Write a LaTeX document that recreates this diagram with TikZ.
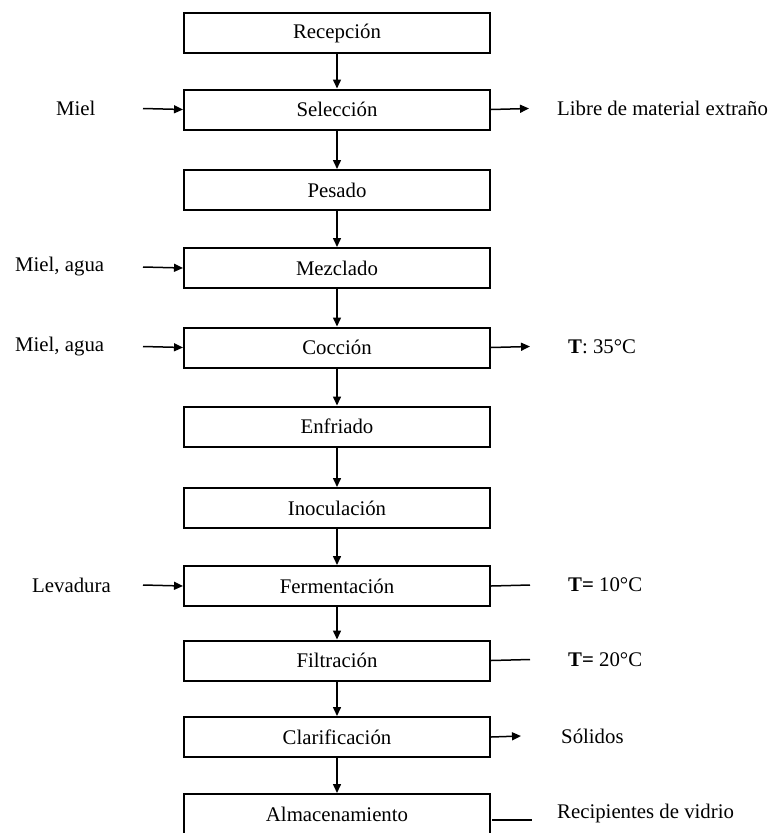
\documentclass[tikz,border=0pt]{standalone}
\usepackage{fontspec}
\setmainfont{Liberation Serif}
\usetikzlibrary{arrows.meta}
\begin{document}
\begin{tikzpicture}[x=1pt,y=-1pt,
  stage/.style={draw,line width=2pt,minimum width=306pt,minimum height=40pt,inner sep=0pt,anchor=north west},
  lbl/.style={anchor=west,inner sep=0pt},
  flow/.style={line width=1.5pt,-{Triangle[length=9pt,width=8pt]}},
  plain/.style={line width=1.5pt},
  every node/.style={font=\fontsize{20.8}{24}\selectfont}]
\useasboundingbox (0,0) rectangle (769,833);
\clip (0,0) rectangle (769,833);

% process stages
\node[stage] (rec) at (183,12)  {Recepción};
\node[stage] (sel) at (183,88.5){Selección};
\node[stage] (pes) at (183,169) {Pesado};
\node[stage] (mez) at (183,247) {Mezclado};
\node[stage] (coc) at (183,326.5){Cocción};
\node[stage] (enf) at (183,405.5){Enfriado};
\node[stage] (ino) at (183,487) {Inoculación};
\node[stage] (fer) at (183,565) {Fermentación};
\node[stage] (fil) at (183,639.5){Filtración};
\node[stage] (cla) at (183,716) {Clarificación};
\node[stage] (alm) at (183,793) {Almacenamiento};

% main flow
\foreach \a/\b in {rec/sel,sel/pes,pes/mez,mez/coc,coc/enf,enf/ino,ino/fer,fer/fil,fil/cla,cla/alm}
  \draw[flow] (\a.south) -- (\b.north);

% inputs on the left
\node[lbl] (in1) at (56,108.5) {Miel};
\node[lbl] (in2) at (15,267)   {Miel, agua};
\node[lbl] (in3) at (15,346.5) {Miel, agua};
\node[lbl] (in4) at (32,585)   {Levadura};
\foreach \n/\y in {sel/108.5,mez/267,coc/346.5,fer/585}{
  \coordinate (src-\n) at (143,\y);
  \draw[flow] (src-\n) -- (\n.west);
}

% outputs and conditions on the right
\node[lbl] (out1) at (557,108.5) {Libre de material extraño};
\node[lbl] (out2) at (568,346.5) {\textbf{T}: 35°C};
\node[lbl] (out3) at (568,585)   {\textbf{T=} 10°C};
\node[lbl] (out4) at (568,659.5) {\textbf{T=} 20°C};
\node[lbl] (out5) at (561,736)   {Sólidos};
\node[lbl] (out6) at (557,813)   {Recipientes de vidrio};

\coordinate (e1) at (529,108.5);
\coordinate (e2) at (530,346.5);
\coordinate (e3) at (530,585);
\coordinate (e4) at (530,659.5);
\coordinate (e5) at (521,736);
\coordinate (e6a) at (492,820);
\coordinate (e6b) at (532,820);

\draw[flow]  (sel.east) -- (e1);
\draw[flow]  (coc.east) -- (e2);
\draw[plain] (fer.east) -- (e3);
\draw[plain] (fil.east) -- (e4);
\draw[flow]  (cla.east) -- (e5);
\draw[plain] (e6a) -- (e6b);
\end{tikzpicture}
\end{document}
